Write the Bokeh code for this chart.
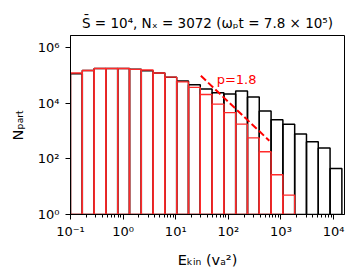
import numpy as np
from bokeh.plotting import figure
from bokeh.models import FixedTicker, CustomJSTickFormatter, Label, Range1d
from bokeh.embed import file_html
from bokeh.resources import INLINE

# ---- data ----
log_edge_min = -1.0
log_edge_max = 4.157
n_bins = 23
black_counts = [118000, 155000, 182000, 182000, 182000, 170000, 151000, 126000,
                89000, 65000, 47000, 33000, 24500, 22000, 28000, 17000,
                5400, 2600, 1800, 790, 420, 250, 45]
red_counts = [126000, 155000, 182000, 182000, 182000, 170000, 162000, 126000,
              89000, 60000, 38000, 21000, 9500, 4700, 1800, 575,
              182, 27, 5]
pl_x = [30.0, 600.0]
pl_y = [1.0e5, 455.0]
pl_label = "p=1.8"
x_major = [1e-1, 1e0, 1e1, 1e2, 1e3, 1e4]
y_major = [1e0, 1e2, 1e4, 1e6]
title_text = "S\u0304 = 10\u2074, N\u2093 = 3072 (\u03c9\u209at = 7.8 \u00d7 10\u2075)"
x_label = "E\u2096\u1d62\u2099 (v\u2090\u00b2)"
y_label = "N\u209a\u2090\u1d63\u209c"

edges = np.logspace(log_edge_min, log_edge_max, n_bins + 1)
x_minor = [m * 10.0 ** k for k in range(-1, 5) for m in range(2, 10)]

X0, X1 = 0.1, 10 ** 4.207
Y0, Y1 = 1.0, 10 ** 6.45
FONT = "DejaVu Sans"

W, H = 352, 276
FL, FR, FT, FB = 70, 344, 35, 214   # frame edges in canvas pixels

p = figure(width=W, height=H, x_axis_type="log", y_axis_type="log",
           x_range=Range1d(X0, X1), y_range=Range1d(Y0, Y1),
           output_backend="svg", toolbar_location=None,
           min_border_left=FL, min_border_right=W - FR, min_border_top=FT,
           min_border_bottom=H - FB)
p.background_fill_color = "white"
p.border_fill_color = "white"
p.outline_line_color = "black"
p.outline_line_width = 1
p.grid.visible = False

p.title.text = title_text
p.title.align = "center"
p.title.text_font = FONT
p.title.text_font_size = "13.5px"
p.title.text_font_style = "normal"
p.title.text_color = "black"

fmt = CustomJSTickFormatter(code="""
const e = Math.round(Math.log10(tick));
const sup = {'-':'\u207b','0':'\u2070','1':'\u00b9','2':'\u00b2','3':'\u00b3','4':'\u2074','5':'\u2075','6':'\u2076','7':'\u2077','8':'\u2078','9':'\u2079'};
return '10' + String(e).split('').map(c => sup[c]).join('');
""")

p.xaxis.ticker = FixedTicker(ticks=x_major, minor_ticks=x_minor)
p.yaxis.ticker = FixedTicker(ticks=y_major, minor_ticks=[])
for ax in (p.xaxis[0], p.yaxis[0]):
    ax.formatter = fmt
    ax.major_label_text_font = FONT
    ax.major_label_text_font_size = "13px"
    ax.major_label_text_color = "black"
    ax.axis_line_color = "black"
    ax.major_tick_line_color = "black"
    ax.minor_tick_line_color = "black"
    ax.major_tick_out = 5
    ax.major_tick_in = 0
    ax.minor_tick_out = 3
    ax.minor_tick_in = 0
    ax.axis_label_text_font = FONT
    ax.axis_label_text_font_size = "14.5px"
    ax.axis_label_text_font_style = "normal"
    ax.axis_label_text_color = "black"
p.xaxis.axis_label = x_label
p.yaxis.axis_label = y_label
p.xaxis.major_label_standoff = 4
p.yaxis.major_label_standoff = 6
p.xaxis.axis_label_standoff = 10
p.yaxis.axis_label_standoff = 9

# histograms (bars with edges only)
p.quad(left=edges[:-1], right=edges[1:], bottom=Y0, top=black_counts,
       fill_alpha=0, line_color="black", line_width=1.5)
nr = len(red_counts)
p.quad(left=edges[:nr], right=edges[1:nr + 1], bottom=Y0, top=red_counts,
       fill_alpha=0, line_color="#ff2a2a", line_width=1.4)

# power-law guide
p.line(pl_x, pl_y, line_color="red", line_width=2, line_dash="7 3")
p.add_layout(Label(x=60, y=7.5e4, text=pl_label, text_color="red",
                   text_font=FONT, text_font_size="13px",
                   text_baseline="alphabetic", text_align="left"))

open("out.html", "w").write(file_html(p, INLINE))
